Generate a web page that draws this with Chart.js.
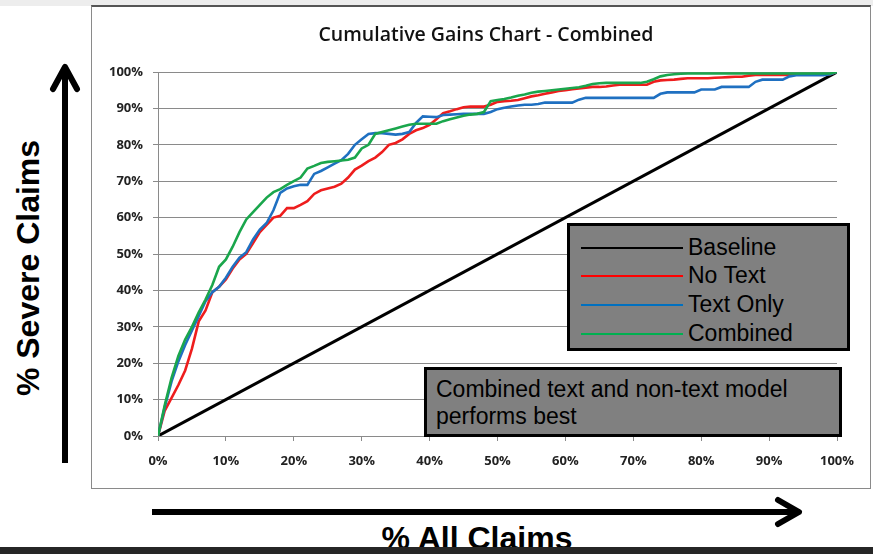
<!DOCTYPE html>
<html>
<head>
<meta charset="utf-8">
<script src="https://cdn.jsdelivr.net/npm/chart.js@4.4.1/dist/chart.umd.min.js"></script>
<style>
  html, body { margin:0; padding:0; }
  body { width:873px; height:554px; position:relative; overflow:hidden; background:#ffffff; font-family:"Liberation Sans", Arial, sans-serif; }
  #topstrip { position:absolute; left:0; top:0; width:873px; height:6px; background:#ededed; }
  #frame { position:absolute; left:91px; top:5px; width:778px; height:481px; background:#ffffff; border:1px solid #8a8a8a; border-top:2px solid #555; }
  #chart { position:absolute; left:92px; top:6px; }
  #title { position:absolute; left:486px; top:33px; transform:translate(-50%,-50%); font-family:'Open Sans', sans-serif; font-weight:600; font-size:19.5px; color:#111; white-space:nowrap; z-index:2; }
  #band { position:absolute; left:0; top:547px; width:873px; height:7px; background:#262626; z-index:5; }
  .box { position:absolute; background:#808080; border:3px solid #000; box-sizing:border-box; color:#000; }
  #legend { left:567px; top:223px; width:283px; height:128px; }
  .lrow { position:absolute; left:8px; height:28px; width:270px; }
  .lrow .sw { position:absolute; left:3px; top:13px; width:102px; height:0; border-top:2px solid #000; }
  .lrow .tx { position:absolute; left:110px; top:-1px; font-size:23px; line-height:28px; white-space:nowrap; }
  #note { left:424px; top:367px; width:418px; height:70px; font-size:23px; line-height:27px; padding:6px 0 0 9px; }
  #ylab { position:absolute; left:28px; top:268px; transform:translate(-50%,-50%) rotate(-90deg); font-size:32px; font-weight:bold; white-space:nowrap; z-index:2; }
  #xlab { position:absolute; left:477px; top:521px; transform:translateX(-50%); font-size:32px; font-weight:bold; white-space:nowrap; line-height:34px; z-index:2; }
  svg { position:absolute; left:0; top:0; z-index:3; }
</style>
</head>
<body>
<div id="topstrip"></div>
<div id="frame"></div>
<canvas id="chart" width="778" height="481"></canvas>
<div id="title"></div>

<div id="legend" class="box">
  <div class="lrow" style="top:8px"><div class="sw" style="border-color:#000000"></div><div class="tx">Baseline</div></div>
  <div class="lrow" style="top:36px"><div class="sw" style="border-color:#ff0000"></div><div class="tx">No Text</div></div>
  <div class="lrow" style="top:65px"><div class="sw" style="border-color:#0070c0"></div><div class="tx">Text Only</div></div>
  <div class="lrow" style="top:94px"><div class="sw" style="border-color:#00b050"></div><div class="tx">Combined</div></div>
</div>
<div id="note" class="box">Combined text and non-text model<br>performs best</div>

<div id="ylab">% Severe Claims</div>
<div id="xlab">% All Claims</div>
<svg width="873" height="554">
  <line x1="65" y1="463" x2="65" y2="70" stroke="#000" stroke-width="6"/>
  <polyline points="53,89 65,67 77,89" fill="none" stroke="#000" stroke-width="6" stroke-linecap="round" stroke-linejoin="round"/>
  <line x1="152" y1="512" x2="797" y2="512" stroke="#000" stroke-width="6"/>
  <polyline points="778,500 799,512 778,524" fill="none" stroke="#000" stroke-width="6" stroke-linecap="round" stroke-linejoin="round"/>
</svg>
<div id="band"></div>

<script>
// ---- data ----
const chartTitle = "Cumulative Gains Chart - Combined";
const pctAllClaims = [0,1,2,3,4,5,6,7,8,9,10,11,12,13,14,15,16,17,18,19,20,21,22,23,24,25,26,27,28,29,30,31,32,33,34,35,36,37,38,39,40,41,42,43,44,45,46,47,48,49,50,51,52,53,54,55,56,57,58,59,60,61,62,63,64,65,66,67,68,69,70,71,72,73,74,75,76,77,78,79,80,81,82,83,84,85,86,87,88,89,90,91,92,93,94,95,96,97,98,99,100];
const baselineX = [0, 100];
const baselineY = [0, 100];
const noText = [0,7,10.5,14,18,24,31.5,34.5,39.5,41, 43,46,48.5,50,53,56,58,60,60.5,62.6, 62.6,63.5,64.5,66.5,67.5,68,68.5,69.3,71,73.2, 74.3,75.5,76.5,78,80,80.5,81.5,83,84,84.6, 85.5,87,88.7,89.2,89.8,90.3,90.5,90.5,90.5,91, 91.8,92,92.1,92.3,92.8,93.3,93.6,94,94.4,94.8, 95,95.3,95.5,95.7,95.9,95.9,96,96.3,96.5,96.5, 96.5,96.5,96.5,97.3,97.7,97.8,97.9,98.1,98.3,98.3, 98.3,98.3,98.4,98.5,98.6,98.7,98.7,99,99.2,99.2, 99.2,99.2,99.2,99.2,99.4,99.4,99.4,99.4,99.4,99.4, 100];
const textOnly = [0,8,15,20.5,25,29,33,37,39.5,41, 43.5,46.5,49,50.5,54,56.7,58.5,62,66.8,68, 68.6,69,69,72,72.8,73.8,74.8,75.8,77.5,80, 81.5,83,83.2,83.2,83,82.8,83,83.5,86,87.8, 87.7,87.6,88.2,88.3,88.4,88.5,88.5,88.5,88.5,89, 89.8,90.2,90.5,90.8,91,91,91.2,91.6,91.6,91.6, 91.6,91.6,92.4,92.9,92.9,92.9,92.9,92.9,92.9,92.9, 92.9,92.9,92.9,92.9,94,94.4,94.4,94.4,94.4,94.4, 95.2,95.2,95.2,95.9,95.9,95.9,95.9,95.9,97.3,97.9, 97.9,97.9,97.9,98.8,99.1,99.1,99.1,99.1,99.1,99.4, 100];
const combined = [0,8.5,16,22,26.5,30,34,37.5,41.5,46.5, 48.5,52,56,59.5,61.5,63.5,65.5,67,67.8,69, 70,71,73.5,74.2,75,75.3,75.5,75.7,75.9,76.5, 79,80,83,83.5,84,84.5,85,85.5,85.8,85.8, 85.8,85.8,86.5,87,87.5,88,88.3,88.5,89,92, 92.3,92.6,93,93.5,93.8,94.3,94.6,94.8,95,95.2, 95.4,95.6,95.8,96.2,96.7,96.9,97,97,97,97, 97,97,97.3,98,98.8,99.2,99.4,99.5,99.6,99.6, 99.6,99.6,99.6,99.6,99.6,99.6,99.6,99.6,99.6,99.6, 99.6,99.6,99.6,99.6,99.6,99.6,99.6,99.6,99.6,99.6, 100];
const seriesNames = ["Baseline", "No Text", "Text Only", "Combined"];

document.getElementById('title').textContent = chartTitle;

const pts = (xs, ys) => ys.map((y, i) => ({ x: xs[i], y: y }));
const tickFont = { family: "'Open Sans', sans-serif", size: 13, weight: 'bold' };

new Chart(document.getElementById('chart'), {
  type: 'line',
  data: {
    datasets: [
      { label: seriesNames[3], data: pts(pctAllClaims, combined), borderColor: '#1aa64c', borderWidth: 2.6 },
      { label: seriesNames[2], data: pts(pctAllClaims, textOnly), borderColor: '#1f70c1', borderWidth: 2.6 },
      { label: seriesNames[1], data: pts(pctAllClaims, noText), borderColor: '#ee1d1d', borderWidth: 2.6 },
      { label: seriesNames[0], data: pts(baselineX, baselineY), borderColor: '#000000', borderWidth: 3 }
    ]
  },
  options: {
    responsive: false,
    devicePixelRatio: 1,
    animation: false,
    elements: { point: { radius: 0, hoverRadius: 0 }, line: { tension: 0, fill: false } },
    layout: { padding: { left: 0, right: 33, top: 66, bottom: 0 } },
    plugins: {
      legend: { display: false },
      tooltip: { enabled: false },
      title: { display: false }
    },
    scales: {
      x: {
        type: 'linear', min: 0, max: 100,
        afterFit: s => { s.height = 51; },
        ticks: { stepSize: 10, callback: v => v + '%', font: tickFont, color: '#222', padding: 12, maxRotation: 0 },
        grid: { drawOnChartArea: false, drawTicks: true, tickLength: 5, color: '#8a8a8a' },
        border: { display: true, color: '#8a8a8a', width: 1 }
      },
      y: {
        min: 0, max: 100,
        afterFit: s => { s.width = 66; },
        ticks: { stepSize: 10, callback: v => v + '%', font: tickFont, color: '#222', padding: 10 },
        grid: { color: '#8a8a8a', tickLength: 5, lineWidth: 1 },
        border: { display: true, color: '#8a8a8a', width: 1 }
      }
    }
  }
});
</script>
</body>
</html>
